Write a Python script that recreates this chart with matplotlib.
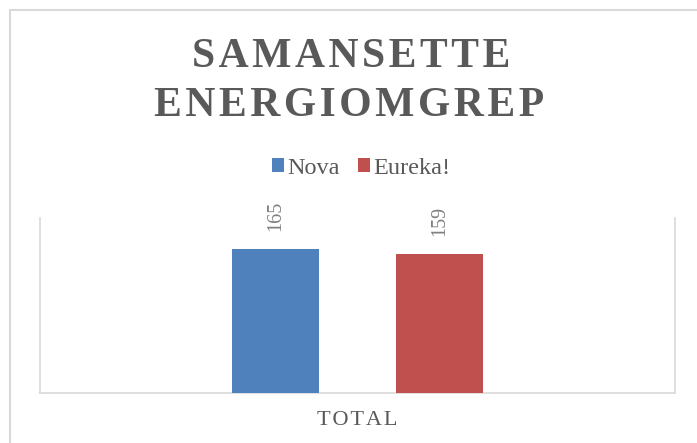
import matplotlib
matplotlib.use("Agg")
import matplotlib.pyplot as plt
from matplotlib.patches import Rectangle

categories = ["TOTAL"]
series_names = ["Nova", "Eureka!"]
series_values = [[165], [159]]
colors = ["#4F81BD", "#C0504D"]
title_lines = ["SAMANSETTE", "ENERGIOMGREP"]

W, H = 697, 443
fig = plt.figure(figsize=(W / 100, H / 100), dpi=100)
plt.rcParams["font.family"] = ["Liberation Serif", "DejaVu Serif"]

HS = "\u200a"

def spaced(s, sep=HS):
    return sep.join(list(s))

# chart border
fig.patches.append(Rectangle((10 / W, -0.1), 1.2, 1 - 10 / H + 0.1, transform=fig.transFigure,
                             fill=False, edgecolor="#d9d9d9", linewidth=1.5))

ax = fig.add_axes([40 / W, 1 - 393 / H, 635 / W, 175 / H])
ax.set_xlim(-0.5, 0.5)
ax.set_ylim(0, 200)

width = 0.137
offsets = [-0.129, 0.129]
for i, (name, vals) in enumerate(zip(series_names, series_values)):
    xs = [j + offsets[i] for j in range(len(categories))]
    bars = ax.bar(xs, vals, width=width, color=colors[i], label=name, zorder=3)
    for b, v in zip(bars, vals):
        ax.annotate(str(v), (b.get_x() + b.get_width() / 2, v), xytext=(0, 13), textcoords="offset points",
                    rotation=90, ha="center", va="bottom", fontsize=14.5, color="#808080")

for s in ["top"]:
    ax.spines[s].set_visible(False)
for s in ["left", "right", "bottom"]:
    ax.spines[s].set_color("#d9d9d9")
    ax.spines[s].set_linewidth(1.2)
ax.set_yticks([])
ax.set_xticks(range(len(categories)))
ax.set_xticklabels([spaced(c) for c in categories], fontsize=16, color="#595959")
ax.tick_params(axis="x", length=0, pad=13)

fig.text(0.5 + 3 / W, 1 - 67 / H, spaced(title_lines[0]), ha="center", va="baseline", fontsize=30,
         fontweight="bold", color="#595959")
fig.text(0.5 + 1 / W, 1 - 116.5 / H, spaced(title_lines[1]), ha="center", va="baseline", fontsize=30,
         fontweight="bold", color="#595959")

leg = fig.legend(loc="center", bbox_to_anchor=(361 / W, 1 - 168 / H), ncol=2, frameon=False,
                 fontsize=17.5, handlelength=0.5, handleheight=0.5, handletextpad=0.12,
                 columnspacing=0.75, labelcolor="#595959", borderpad=0)

fig.savefig("out.png", dpi=100, facecolor="white")
